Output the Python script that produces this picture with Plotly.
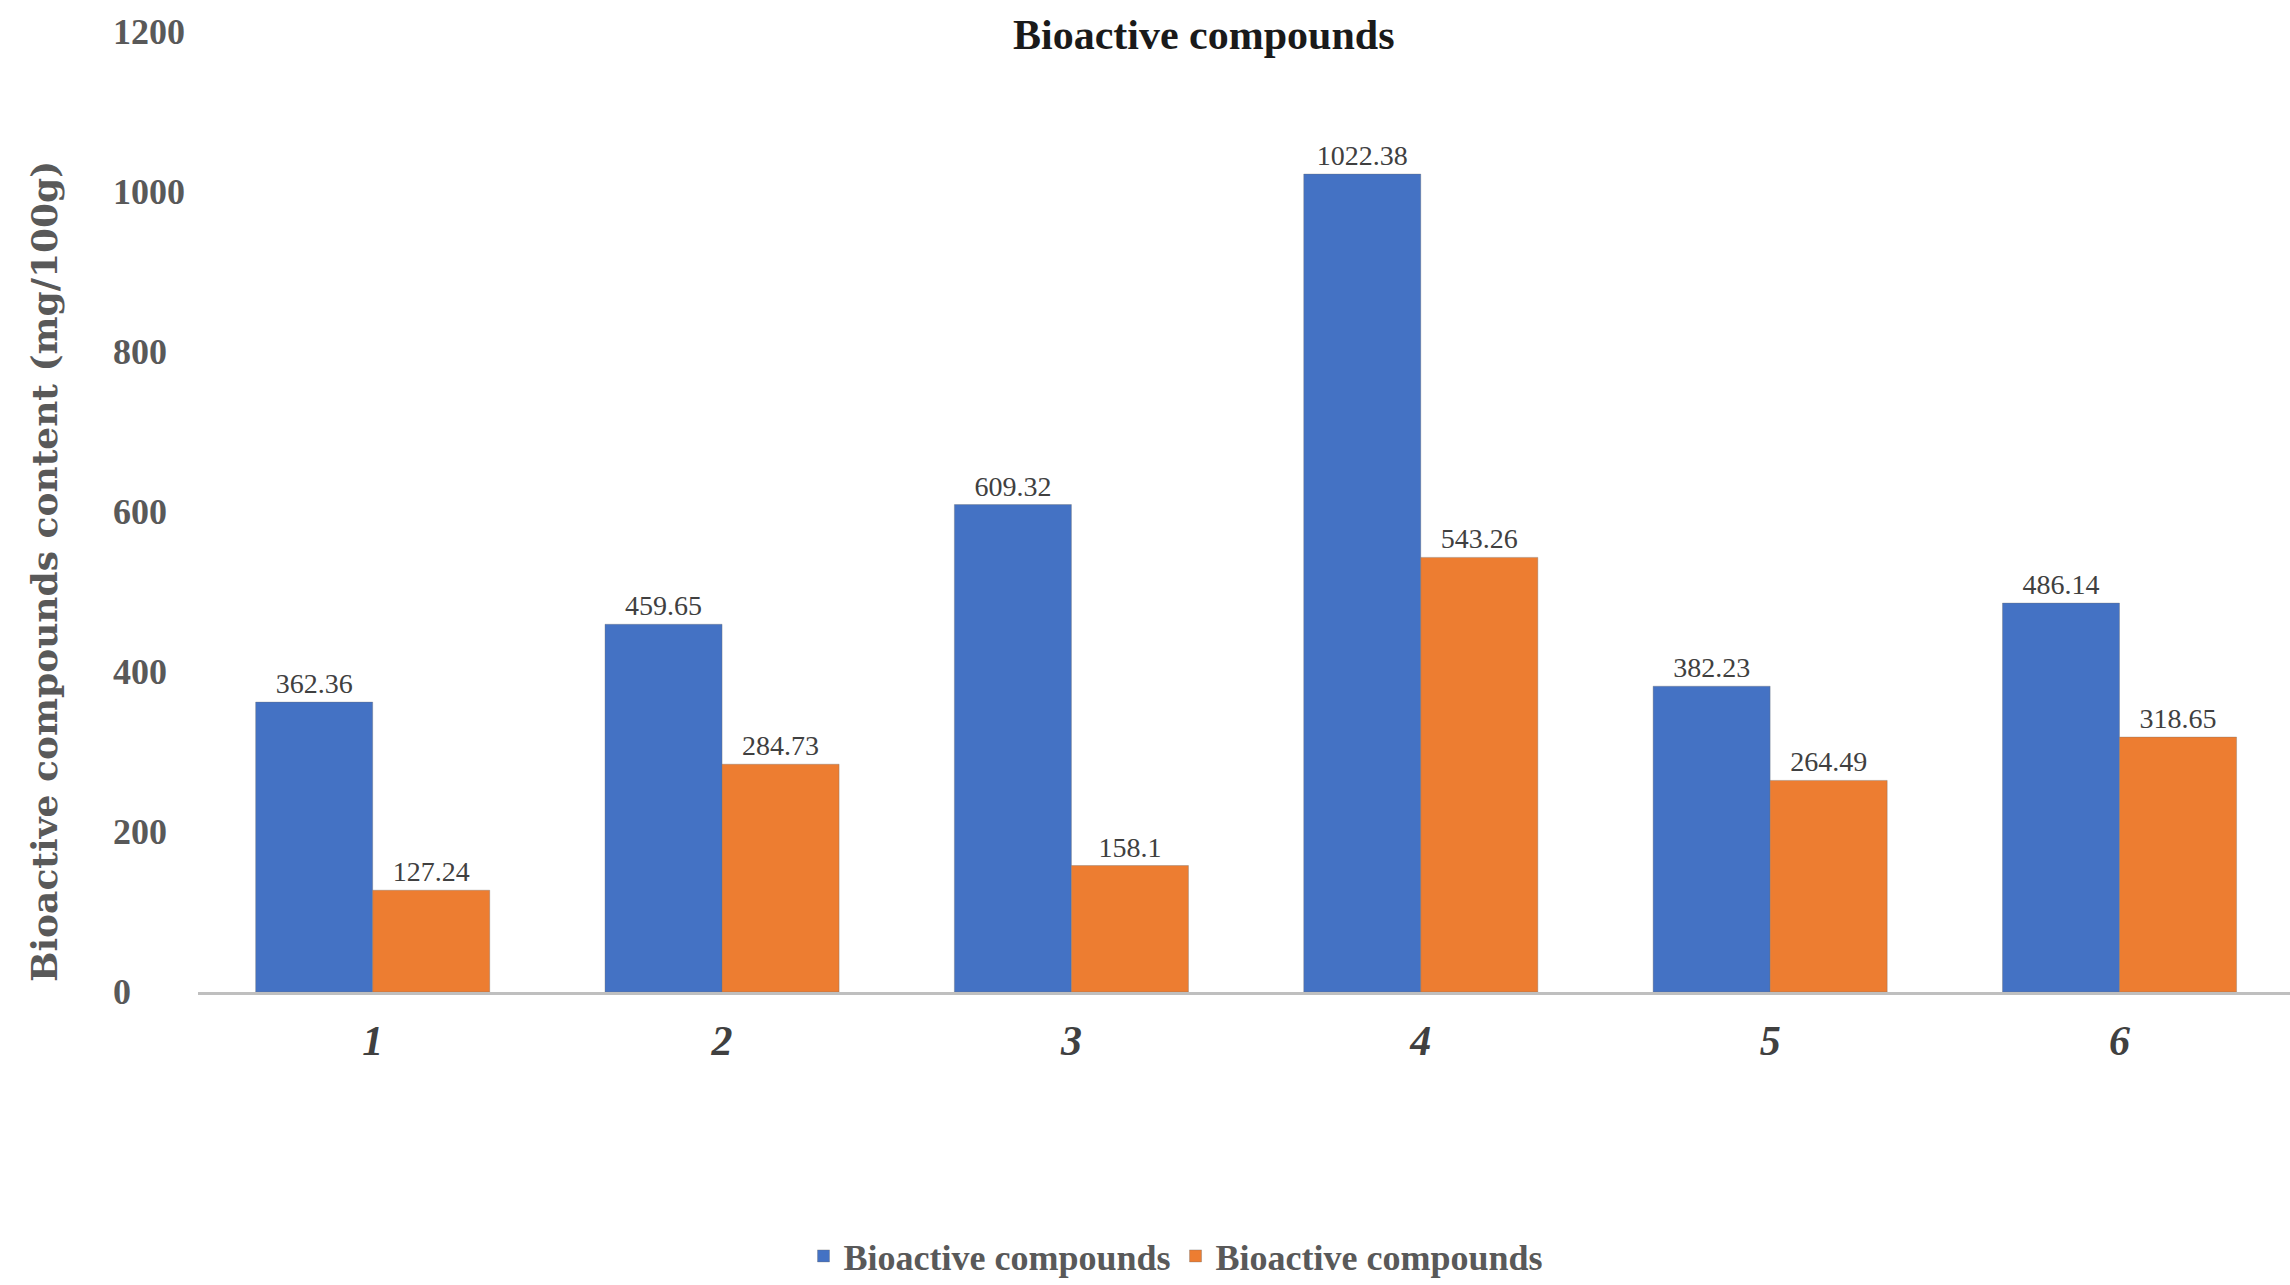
import plotly.graph_objects as go

# Sample groups and measured contents (mg/100g)
categories = ["1", "2", "3", "4", "5", "6"]
series_names = ["Bioactive compounds", "Bioactive compounds"]
series_a = [362.36, 459.65, 609.32, 1022.38, 382.23, 486.14]
series_b = [127.24, 284.73, 158.1, 543.26, 264.49, 318.65]
y_ticks = [0, 200, 400, 600, 800, 1000, 1200]

BLUE = "#4472C4"
ORANGE = "#ED7D31"
SERIF = "Liberation Serif"

fig = go.Figure()
for name, vals, color in [(series_names[0], series_a, BLUE), (series_names[1], series_b, ORANGE)]:
    fig.add_trace(go.Bar(
        x=categories, y=vals, name=name,
        marker=dict(color=color, line=dict(color="rgba(110,110,110,0.35)", width=1)),
        text=[f"{v:g}" for v in vals], textposition="outside",
        textfont=dict(family=SERIF, size=28, color="#404040"),
        cliponaxis=False,
    ))

# left-aligned value labels for the y axis
for t in y_ticks:
    fig.add_annotation(
        x=-0.0416, xref="paper", y=t, yref="y", text=f"<b>{t}</b>",
        xanchor="left", yanchor="middle", showarrow=False,
        font=dict(family=SERIF, size=36, color="#595959"),
    )

# y axis title
fig.add_annotation(
    x=-0.0736, xref="paper", y=0.4375, yref="paper",
    text="<b>Bioactive compounds content (mg/100g)</b>", textangle=-90,
    xanchor="center", yanchor="middle", showarrow=False,
    font=dict(family="DejaVu Serif", size=36, color="#595959"),
)

# chart title
fig.add_annotation(
    x=0.481, xref="paper", y=0.997, yref="paper",
    text="<b>Bioactive compounds</b>", xanchor="center", yanchor="middle",
    showarrow=False, font=dict(family=SERIF, size=42, color="#1a1a1a"),
)

fig.update_layout(
    width=2290, height=1285,
    margin=dict(l=198, r=0, t=32, b=293, autoexpand=False),
    paper_bgcolor="white", plot_bgcolor="white",
    barmode="group", bargap=0.33, bargroupgap=0,
    showlegend=True,
    legend=dict(
        orientation="h", x=0.4675, y=-0.275, xanchor="center", yanchor="middle",
        font=dict(family=SERIF, size=36, color="#595959", weight="bold"),
        itemwidth=30, traceorder="normal",
    ),
    xaxis=dict(
        type="category", range=[-0.5, 5.488],
        showline=True, linecolor="#BFBFBF", linewidth=3,
        showgrid=False, ticks="", ticklabelstandoff=10,
        tickfont=dict(family=SERIF, size=42, color="#404040", style="italic", weight="bold"),
    ),
    yaxis=dict(
        range=[0, 1200], showticklabels=False, showgrid=False,
        zeroline=False, showline=False, ticks="",
    ),
)

fig.write_html("out.html")
